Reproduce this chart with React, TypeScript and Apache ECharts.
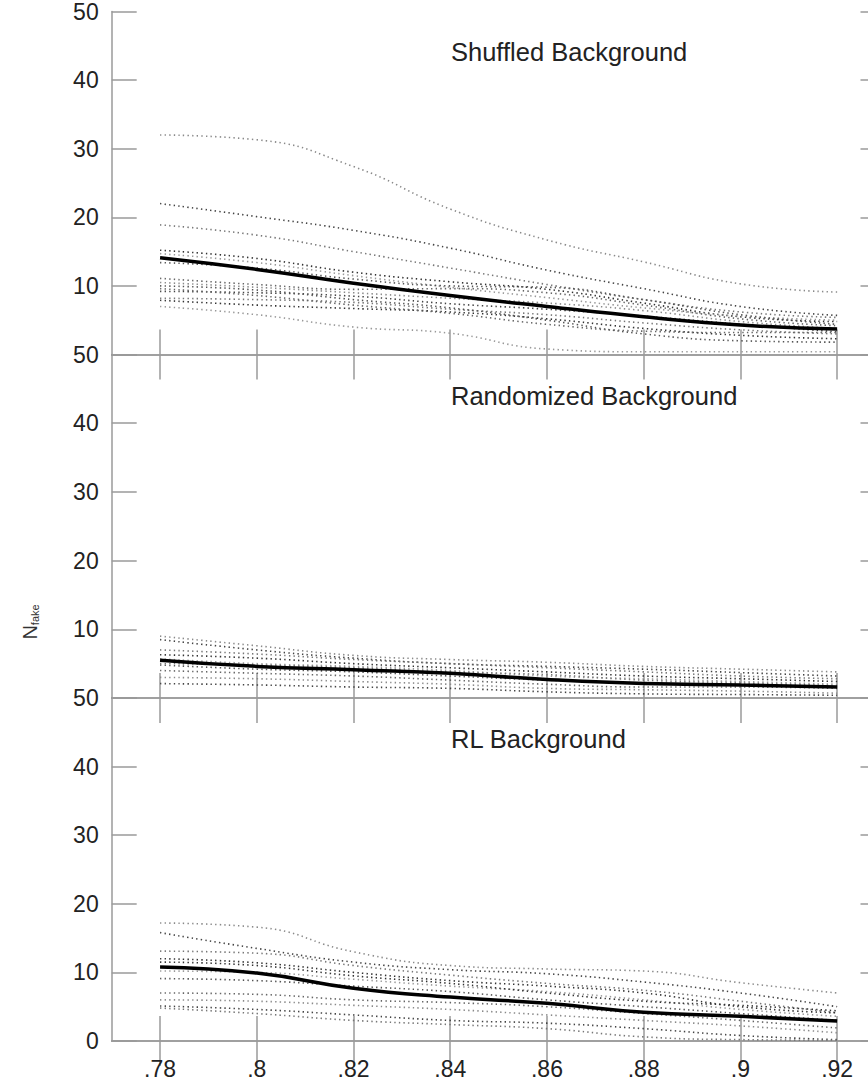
import React, { useEffect, useRef } from 'react';
import * as echarts from 'echarts';

const xValues = [0.78, 0.8, 0.82, 0.84, 0.86, 0.88, 0.9, 0.92];
const xTickValues = [0.78, 0.8, 0.82, 0.84, 0.86, 0.88, 0.9, 0.92];
const panelTitles = ['Shuffled Background', 'Randomized Background', 'RL Background'];
const yAxisName = 'N';
const yAxisSub = 'fake';

const shuffledMean = [14.1, 12.4, 10.4, 8.6, 7.0, 5.5, 4.3, 3.7];
const shuffledRun1 = [32.0, 31.3, 27.4, 21.2, 16.7, 13.5, 10.3, 9.1];
const shuffledRun2 = [22.0, 20.1, 18.1, 15.5, 12.3, 9.6, 7.0, 5.7];
const shuffledRun3 = [18.9, 17.4, 15.0, 12.6, 10.2, 8.0, 6.2, 5.4];
const shuffledRun4 = [15.2, 14.0, 12.0, 10.6, 9.5, 7.5, 5.5, 4.8];
const shuffledRun5 = [14.7, 13.4, 11.5, 9.8, 8.3, 6.8, 5.6, 5.0];
const shuffledRun6 = [13.4, 12.6, 11.0, 10.0, 9.8, 8.0, 5.8, 4.4];
const shuffledRun7 = [11.1, 10.2, 9.5, 9.6, 9.0, 7.2, 5.2, 4.2];
const shuffledRun8 = [10.5, 9.8, 9.0, 8.2, 7.5, 6.4, 4.8, 3.8];
const shuffledRun9 = [9.2, 9.0, 8.5, 7.4, 6.6, 5.6, 4.4, 3.3];
const shuffledRun10 = [8.2, 8.0, 7.6, 6.6, 5.8, 4.6, 3.6, 3.0];
const shuffledRun11 = [7.9, 7.2, 6.7, 6.2, 5.2, 3.8, 2.8, 2.3];
const shuffledRun12 = [7.0, 5.8, 4.0, 3.1, 0.8, 0.4, 0.4, 0.4];
const shuffledRun13 = [10.0, 9.4, 8.0, 6.8, 5.0, 3.0, 2.0, 1.8];
const shuffledRun14 = [9.6, 8.6, 7.2, 6.0, 4.4, 3.4, 3.2, 3.2];

const randomizedMean = [5.5, 4.6, 4.1, 3.6, 2.7, 2.1, 1.9, 1.6];
const randomizedRun1 = [9.0, 7.6, 6.2, 5.6, 5.2, 4.6, 4.2, 3.8];
const randomizedRun2 = [8.5, 7.0, 5.8, 5.0, 4.6, 4.2, 3.7, 3.2];
const randomizedRun3 = [7.0, 6.4, 5.6, 5.0, 4.4, 3.8, 3.2, 2.8];
const randomizedRun4 = [6.3, 5.8, 5.0, 4.4, 3.8, 3.2, 2.8, 2.4];
const randomizedRun5 = [5.7, 5.0, 4.6, 4.0, 3.2, 2.8, 2.4, 2.0];
const randomizedRun6 = [4.8, 4.2, 3.8, 3.2, 2.6, 2.2, 2.0, 1.6];
const randomizedRun7 = [4.0, 3.6, 3.2, 2.6, 2.0, 1.6, 1.6, 1.4];
const randomizedRun8 = [3.0, 2.8, 2.4, 2.0, 1.4, 1.2, 1.0, 0.7];
const randomizedRun9 = [2.1, 1.9, 1.6, 1.4, 0.9, 0.6, 0.5, 0.4];
const randomizedRun10 = [5.0, 4.8, 4.4, 3.8, 3.4, 2.6, 2.2, 1.8];

const rlMean = [10.8, 9.9, 7.7, 6.4, 5.5, 4.2, 3.6, 2.9];
const rlRun1 = [17.2, 16.6, 13.0, 11.0, 10.5, 10.2, 8.5, 7.0];
const rlRun2 = [15.8, 13.5, 11.5, 10.4, 9.8, 8.6, 7.0, 5.0];
const rlRun3 = [13.1, 12.8, 11.0, 9.6, 8.4, 7.4, 5.8, 4.1];
const rlRun4 = [12.0, 11.4, 10.0, 8.8, 8.0, 7.0, 5.0, 4.1];
const rlRun5 = [10.2, 10.0, 9.0, 8.0, 7.2, 6.0, 4.6, 3.6];
const rlRun6 = [9.1, 8.8, 8.0, 7.2, 6.0, 5.0, 4.0, 3.0];
const rlRun7 = [7.0, 6.8, 6.0, 5.6, 5.0, 4.0, 3.0, 1.9];
const rlRun8 = [6.0, 5.8, 5.2, 4.6, 3.8, 3.0, 2.2, 1.2];
const rlRun9 = [5.1, 4.6, 3.8, 3.0, 2.6, 1.8, 0.8, 0.2];
const rlRun10 = [4.8, 4.0, 3.0, 2.4, 1.8, 0.6, 0.2, 0.1];
const rlRun11 = [11.5, 11.0, 9.5, 8.4, 7.0, 5.8, 5.2, 4.4];

const panelMeans = [shuffledMean, randomizedMean, rlMean];
const panelRuns = [
  [shuffledRun1, shuffledRun2, shuffledRun3, shuffledRun4, shuffledRun5, shuffledRun6, shuffledRun7,
    shuffledRun8, shuffledRun9, shuffledRun10, shuffledRun11, shuffledRun12, shuffledRun13, shuffledRun14],
  [randomizedRun1, randomizedRun2, randomizedRun3, randomizedRun4, randomizedRun5, randomizedRun6,
    randomizedRun7, randomizedRun8, randomizedRun9, randomizedRun10],
  [rlRun1, rlRun2, rlRun3, rlRun4, rlRun5, rlRun6, rlRun7, rlRun8, rlRun9, rlRun10, rlRun11],
];

const FONT = '"Liberation Sans", Arial, Helvetica, sans-serif';
const AXIS_COLOR = '#9a9a9a';
const RUN_COLORS = ['#8a8a8a', '#444444', '#777777', '#333333', '#999999', '#555555', '#666666'];

const CHART_W = 886;

export default function App() {
  const ref = useRef<HTMLDivElement>(null);
  useEffect(() => {
    const chart = echarts.init(ref.current!, null, { renderer: 'svg' });
    const left = 111.7;
    const right = CHART_W - 885.5;
    const top0 = 11;
    const ph = 343.5;

    const grids: any[] = [];
    const xAxes: any[] = [];
    const yAxes: any[] = [];
    const series: any[] = [];
    const titles: any[] = [];

    const fmtX = (v: number) => String(+Number(v).toFixed(2)).replace(/^0/, '');
    const lineStyle = { color: AXIS_COLOR, width: 1.5 };

    for (let i = 0; i < 3; i++) {
      grids.push({ left, right, top: top0 + i * ph, height: ph, containLabel: false });
      xAxes.push({
        type: 'value', gridIndex: i, min: 0.77, max: 0.93, position: 'bottom',
        axisLine: { show: true, lineStyle },
        axisTick: { show: true, inside: true, length: 25, customValues: xTickValues, lineStyle },
        axisLabel: {
          show: i === 2, customValues: xTickValues, formatter: fmtX,
          fontSize: 23, color: '#222', fontFamily: FONT, margin: 16,
        },
        splitLine: { show: false },
      });
      xAxes.push({
        type: 'value', gridIndex: i, min: 0.77, max: 0.93, position: 'top',
        axisLine: { show: true, lineStyle },
        axisTick: { show: true, inside: true, length: 25, customValues: xTickValues, lineStyle },
        axisLabel: { show: false },
        splitLine: { show: false },
      });
      yAxes.push({
        type: 'value', gridIndex: i, min: 0, max: 50, interval: 10, position: 'left',
        axisLine: { show: true, lineStyle },
        axisTick: { show: true, inside: true, length: 25, lineStyle },
        axisLabel: {
          fontSize: 23, color: '#222', fontFamily: FONT, margin: 13,
          formatter: (v: number) => (i < 2 && v === 0 ? '' : String(v)),
        },
        splitLine: { show: false },
      });
      yAxes.push({
        type: 'value', gridIndex: i, min: 0, max: 50, interval: 10, position: 'right',
        axisLine: { show: true, lineStyle },
        axisTick: { show: true, inside: true, length: 25, lineStyle },
        axisLabel: { show: false },
        splitLine: { show: false },
      });

      titles.push({
        text: panelTitles[i], left: 451, top: top0 + i * ph + 28, padding: 0,
        textStyle: { fontSize: 25.5, fontWeight: 'normal', color: '#222', fontFamily: FONT },
      });

      panelRuns[i].forEach((run, k) => {
        series.push({
          type: 'line', xAxisIndex: i * 2, yAxisIndex: i * 2,
          data: xValues.map((x, j) => [x, run[j]]),
          showSymbol: false, smooth: 0.5,
          lineStyle: { color: RUN_COLORS[k % RUN_COLORS.length], width: 1.6, type: [1.4, 3.2] },
          z: 2, silent: true,
        });
      });
      series.push({
        type: 'line', xAxisIndex: i * 2, yAxisIndex: i * 2,
        data: xValues.map((x, j) => [x, panelMeans[i][j]]),
        showSymbol: false, smooth: 0.5,
        lineStyle: { color: '#000', width: 3.5 },
        z: 3, silent: true,
      });
    }

    chart.setOption({
      animation: false,
      backgroundColor: '#fff',
      title: titles,
      grid: grids,
      xAxis: xAxes,
      yAxis: yAxes,
      series,
      graphic: [
        {
          type: 'text', x: 30, y: 622, rotation: Math.PI / 2,
          style: {
            text: '{n|' + yAxisName + '}{s|' + yAxisSub + '}',
            align: 'center', verticalAlign: 'middle',
            rich: {
              n: { fontSize: 20, fontFamily: FONT, fill: '#333', color: '#333' },
              s: { fontSize: 11, fontFamily: FONT, fill: '#333', color: '#333', padding: [10, 0, 0, 0] },
            },
          },
        },
      ],
    });
    return () => chart.dispose();
  }, []);
  return (
    <div style={{ position: 'absolute', left: 0, top: 0, width: 868, height: 1080, overflow: 'hidden' }}>
      <div ref={ref} style={{ width: CHART_W, height: 1080 }} />
    </div>
  );
}
